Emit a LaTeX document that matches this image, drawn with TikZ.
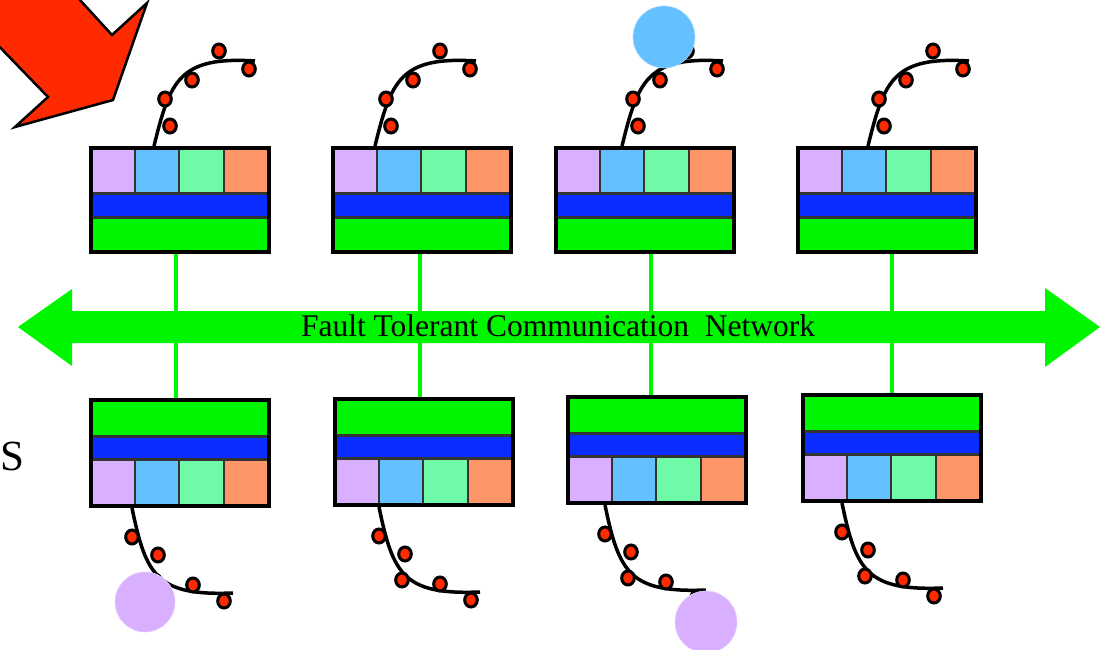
\documentclass[tikz,border=0pt]{standalone}
\usepackage{fontspec}
\setmainfont{Liberation Serif}
\usetikzlibrary{calc}
\definecolor{netgreen}{HTML}{00F500}
\definecolor{bandblue}{HTML}{0A2CFF}
\definecolor{cellpurple}{HTML}{D8B0FF}
\definecolor{cellblue}{HTML}{64C0FF}
\definecolor{cellmint}{HTML}{70FAA8}
\definecolor{cellorange}{HTML}{FF9668}
\definecolor{dotred}{HTML}{FF2A00}
\definecolor{ringblue}{HTML}{A8DCFF}
\definecolor{ringpurple}{HTML}{E8D0FF}
\tikzset{
  cell/.style={draw=black!80, line width=1.2pt},
  frame/.style={draw=black, line width=4pt, outer sep=2pt, inner sep=0pt,
    minimum width=178pt, anchor=north west},
  dot/.style={fill=dotred, draw=black, line width=3pt},
  wire/.style={draw=black, line width=3.5pt},
  link/.style={draw=netgreen, line width=3.5pt},
  ball/.style={line width=0.6pt},
  pics/topbox/.style={code={
    \filldraw[cell, fill=cellpurple] (3,3) rectangle (46,47);
    \filldraw[cell, fill=cellblue] (46,3) rectangle (90,47);
    \filldraw[cell, fill=cellmint] (90,3) rectangle (135,47);
    \filldraw[cell, fill=cellorange] (135,3) rectangle (179,47);
    \filldraw[cell, fill=bandblue] (3,48) rectangle (179,71);
    \filldraw[cell, fill=netgreen] (3,72) rectangle (179,105);
    \node[frame, minimum height=104pt] (-frame) at (0,0) {};
  }},
  pics/botbox/.style={code={
    \filldraw[cell, fill=netgreen] (3,3) rectangle (179,38);
    \filldraw[cell, fill=bandblue] (3,39) rectangle (179,61);
    \filldraw[cell, fill=cellpurple] (3,62) rectangle (46,107);
    \filldraw[cell, fill=cellblue] (46,62) rectangle (90,107);
    \filldraw[cell, fill=cellmint] (90,62) rectangle (135,107);
    \filldraw[cell, fill=cellorange] (135,62) rectangle (179,107);
    \node[frame, minimum height=106pt] (-frame) at (0,0) {};
  }},
  pics/squigup/.style={code={
    \draw[wire] (0,0) .. controls (16,-65) and (25,-90) .. (101,-85);
    \foreach \a/\b in {16/-20, 11/-47, 38/-66, 65/-95, 95/-77}
      \draw[dot] (\a,\b) ellipse [x radius=6.3, y radius=7];
  }},
  pics/squigdown/.style={code={
    \draw[wire] (0,0) .. controls (14,68) and (25,88) .. (101,85);
    \foreach \a/\b in {0/29, 26/47, 23/73, 61/77, 92/93}
      \draw[dot] (\a,\b) ellipse [x radius=6.3, y radius=7];
  }},
}
\begin{document}
\begin{tikzpicture}[x=1pt, y=-1pt]
\useasboundingbox (0,0) rectangle (1106,650);

% red arrow (clipped at the picture edge)
\begin{scope}
  \clip (0,0) rectangle (1106,650);
  \filldraw[fill=dotred, draw=black, line width=2.5pt, line join=miter]
    (70,-11) -- (112,35) -- (147,3) -- (113,100) -- (15,127) -- (48,97)
    -- (-10,37) -- (-30,10) -- (40,-30) -- cycle;
\end{scope}

% network arrow
\fill[netgreen] (18,327) -- (72,289) -- (72,311) -- (1045,311) -- (1045,288)
  -- (1100,327) -- (1045,367) -- (1045,343) -- (72,343) -- (72,366) -- cycle;

% boxes
\pic (b1) at (89,146) {topbox};
\pic (b2) at (331,146) {topbox};
\pic (b3) at (554,146) {topbox};
\pic (b4) at (796,146) {topbox};
\pic (b5) at (89,398) {botbox};
\pic (b6) at (333,397) {botbox};
\pic (b7) at (566,395) {botbox};
\pic (b8) at (801,393) {botbox};

% links through the network
\draw[link] ([xshift=-4pt]b1-frame.south) -- ([xshift=-4pt]b1-frame.south |- b5-frame.north);
\draw[link] ([xshift=-2pt]b2-frame.south) -- ([xshift=-2pt]b2-frame.south |- b6-frame.north);
\draw[link] ([xshift=6pt]b3-frame.south) -- ([xshift=6pt]b3-frame.south |- b7-frame.north);
\draw[link] ([xshift=5pt]b4-frame.south) -- ([xshift=5pt]b4-frame.south |- b8-frame.north);

\node[anchor=base, inner sep=0pt, font=\fontsize{31.5}{36}\selectfont] (net)
  at (558,336) {Fault Tolerant Communication\ \ Network};

% squiggles
\pic at ([xshift=65pt]b1-frame.north west) {squigup};
\pic at ([xshift=44pt]b2-frame.north west) {squigup};
\pic at ([xshift=68pt]b3-frame.north west) {squigup};
\pic at ([xshift=72pt]b4-frame.north west) {squigup};
\pic at ([xshift=43pt]b5-frame.south west) {squigdown};
\pic at ([xshift=46pt]b6-frame.south west) {squigdown};
\pic at ([xshift=39pt]b7-frame.south west) {squigdown};
\pic at ([xshift=41pt]b8-frame.south west) {squigdown};

% balls
\filldraw[ball, fill=cellblue, draw=ringblue] (664,37) circle [radius=31];
\filldraw[ball, fill=cellpurple, draw=ringpurple] (145,602) circle [radius=30];
\filldraw[ball, fill=cellpurple, draw=ringpurple] (706,622) circle [radius=31];

% side letter
\node[anchor=base west, inner sep=0pt, font=\fontsize{43}{48}\selectfont] (sl)
  at (0,470) {S};
\end{tikzpicture}
\end{document}
